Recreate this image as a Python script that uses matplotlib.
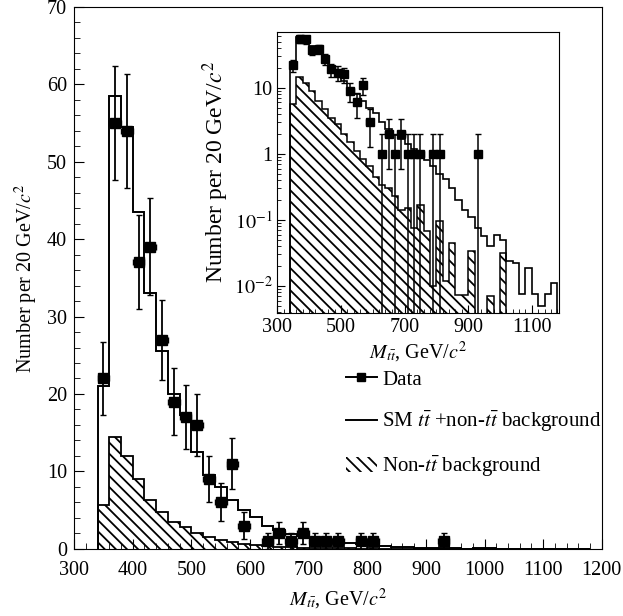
import matplotlib
matplotlib.use("Agg")
import matplotlib.pyplot as plt
from matplotlib.lines import Line2D
from matplotlib.patches import Patch
from matplotlib.ticker import MultipleLocator, FixedLocator, FixedFormatter, LogLocator, NullFormatter
import numpy as np

plt.rcParams['font.family'] = ['Liberation Serif', 'DejaVu Serif']
plt.rcParams['mathtext.fontset'] = 'stix'
plt.rcParams['hatch.linewidth'] = 1.3

# 20 GeV bins from 340 to 1180
edges = np.arange(340, 1181, 20)

# SM ttbar + non-ttbar background (total), per bin
sm_total = [21.0, 58.5, 54.5, 43.5, 33.0, 25.5, 20.0, 17.3, 12.5, 9.5,
            8.0, 6.3, 5.0, 4.1, 3.0, 2.4, 1.9, 1.7, 1.4, 1.2,
            0.95, 0.8, 0.65, 0.5, 0.42, 0.3, 0.2, 0.14, 0.11, 0.076,
            0.057, 0.04, 0.06, 0.05, 0.024, 0.022, 0.0075, 0.019, 0.0075, 0.005,
            0.0075, 0.011]

# non-ttbar background, per bin
non_tt = [5.7, 14.5, 12.0, 9.0, 6.3, 4.8, 3.5, 2.8, 2.0, 1.5,
          1.1, 0.85, 0.65, 0.45, 0.34, 0.3, 0.23, 0.14, 0.15, 0.076,
          0.17, 0.068, 0.01, 0.096, 0.012, 0.045, 0.0074, 0.0074, 0.034, 0.0,
          0.0, 0.007, 0.0, 0.032, 0.0, 0.0, 0.0, 0.0, 0.0, 0.0,
          0.0, 0.0]

# data (bin centres, counts)
data_x = [350, 370, 390, 410, 430, 450, 470, 490, 510, 530, 550, 570, 590,
          630, 650, 670, 690, 710, 730, 750, 790, 810, 930]
data_y = [22, 55, 54, 37, 39, 27, 19, 17, 16, 9, 6, 11, 3,
          1, 2, 1, 2, 1, 1, 1, 1, 1, 1]

data_x = np.array(data_x, float)
data_y = np.array(data_y, float)
err = np.sqrt(data_y)

HATCH = '\\\\\\'
xlab = r'$M_{t\bar{t}}$, GeV/$c^2$'
ylab = r'Number per 20 GeV/$c^2$'

fig = plt.figure(figsize=(6.23, 6.16), dpi=100)

# ---------------- main linear plot ----------------
ax = fig.add_axes([0.119, 0.109, 0.847, 0.880])
ax.stairs(non_tt, edges, fill=True, facecolor='white', edgecolor='black',
          hatch=HATCH, linewidth=1.3)
ax.stairs(sm_total, edges, baseline=0, color='black', linewidth=1.4)
ax.errorbar(data_x, data_y, yerr=err, xerr=10, fmt='s', color='black',
            ms=7, capsize=2, elinewidth=1.3, capthick=1)

ax.set_xlim(300, 1200)
ax.set_ylim(0, 70)
ax.xaxis.set_major_locator(MultipleLocator(100))
ax.xaxis.set_minor_locator(MultipleLocator(20))
ax.yaxis.set_major_locator(MultipleLocator(10))
ax.yaxis.set_minor_locator(MultipleLocator(2))
ax.tick_params(which='both', direction='in', top=False, right=False, labelsize=14.5)
ax.tick_params(axis='x', pad=9)
ax.tick_params(axis='y', pad=5)
ax.tick_params(which='major', length=7)
ax.tick_params(which='minor', length=4)
ax.set_xlabel(xlab, fontsize=14.5, labelpad=5)
ax.set_ylabel(ylab, fontsize=14.5, labelpad=5)

handles = [Line2D([], [], color='black', marker='s', ms=6, linestyle='-', lw=1.4),
           Line2D([], [], color='black', lw=1.4),
           Patch(facecolor='white', edgecolor='black', hatch=HATCH, linewidth=0)]
labels = ['Data', r'SM $t\bar{t}$ +non-$t\bar{t}$ background', r'Non-$t\bar{t}$ background']
ax.legend(handles, labels, loc='upper left', bbox_to_anchor=(0.538, 0.416),
          bbox_transform=fig.transFigure, frameon=False, fontsize=15,
          handlelength=1.5, handletextpad=0.25, labelspacing=0.95, borderpad=0)

# ---------------- inset log plot ----------------
ins = fig.add_axes([0.445, 0.492, 0.452, 0.456])
ins.stairs(non_tt, edges, fill=True, baseline=1e-4, facecolor='white',
           edgecolor='black', hatch=HATCH, linewidth=1.1)
ins.stairs(sm_total, edges, baseline=1e-4, color='black', linewidth=1.2)
err_lo = np.minimum(err, data_y - 1e-4)
ins.errorbar(data_x, data_y, yerr=[err_lo, err], xerr=10, fmt='s', color='black',
             ms=6, capsize=2, elinewidth=1.1, capthick=1)
ins.set_yscale('log')
ins.set_xlim(300, 1185)
ins.set_ylim(0.0039, 70)
ins.xaxis.set_major_locator(FixedLocator([300, 500, 700, 900, 1100]))
ins.xaxis.set_minor_locator(MultipleLocator(20))
ins.yaxis.set_major_locator(FixedLocator([0.01, 0.1, 1, 10]))
ins.yaxis.set_major_formatter(FixedFormatter([r'$10^{-2}$', r'$10^{-1}$', '1', '10']))
ins.yaxis.set_minor_locator(LogLocator(base=10, subs=np.arange(2, 10)))
ins.yaxis.set_minor_formatter(NullFormatter())
ins.tick_params(which='both', direction='in', top=False, right=False, labelsize=14.5)
ins.tick_params(which='major', length=6)
ins.tick_params(which='minor', length=3)
ins.set_xlabel(xlab, fontsize=14.5, labelpad=2)
ins.set_ylabel(ylab, fontsize=17, labelpad=2)

fig.savefig('out.png', dpi=100)
